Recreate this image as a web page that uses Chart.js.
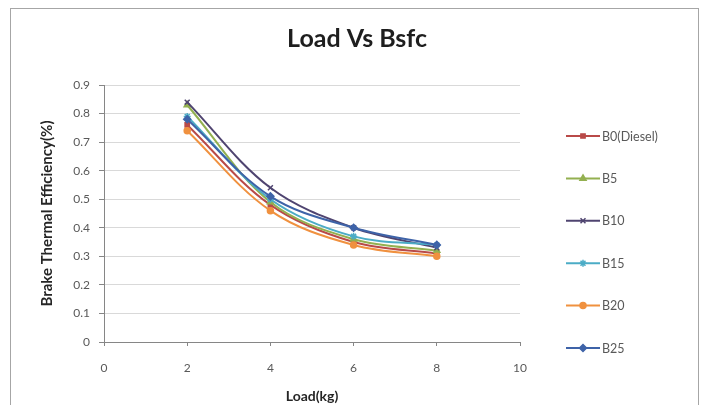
<!DOCTYPE html>
<html><head><meta charset="utf-8">
<script src="https://cdn.jsdelivr.net/npm/chart.js@4/dist/chart.umd.min.js"></script>
<style>html,body{margin:0;padding:0;background:#fff}#wrap{width:702px;height:405px;position:relative}</style>
</head><body><div id="wrap"><canvas id="c" width="702" height="405"></canvas></div>
<script>
const chartTitle = 'Load Vs Bsfc';
const xTitle = 'Load(kg)';
const yTitle = 'Brake Thermal Efficiency(%)';
const loads = [2, 4, 6, 8];
const seriesNames = ['B0(Diesel)', 'B5', 'B10', 'B15', 'B20', 'B25'];
const b0  = [0.76, 0.48, 0.35, 0.31];
const b5  = [0.83, 0.49, 0.36, 0.32];
const b10 = [0.84, 0.54, 0.40, 0.33];
const b15 = [0.79, 0.50, 0.37, 0.34];
const b20 = [0.74, 0.46, 0.34, 0.30];
const b25 = [0.78, 0.51, 0.40, 0.34];
const xTicks = [0, 2, 4, 6, 8, 10];
const yTicks = [0, 0.1, 0.2, 0.3, 0.4, 0.5, 0.6, 0.7, 0.8, 0.9];

const seriesValues = [b0, b5, b10, b15, b20, b25];
const colors = ['#B94A48', '#93B050', '#4F4470', '#4BACC6', '#F0913F', '#3E63A8'];
const markers = ['rect', 'triangle', 'crossRot', 'star', 'circle', 'rectRot'];
const radii = [3, 3.5, 3.5, 3.5, 3, 3.5];

const datasets = seriesNames.map((name, i) => ({
  label: name,
  data: loads.map((x, j) => ({ x: x, y: seriesValues[i][j] })),
  borderColor: colors[i],
  backgroundColor: colors[i],
  pointBackgroundColor: colors[i],
  pointBorderColor: colors[i],
  pointStyle: markers[i],
  pointRadius: radii[i],
  pointBorderWidth: 1.5,
  borderWidth: 2,
  tension: 0.35,
  fill: false,
  order: -i
}));

const decor = {
  id: 'decor',
  beforeDraw(chart) {
    const ctx = chart.ctx;
    ctx.save();
    ctx.fillStyle = '#ffffff';
    ctx.fillRect(0, 0, chart.width, chart.height);
    ctx.strokeStyle = '#a6a6a6';
    ctx.lineWidth = 1;
    ctx.strokeRect(10.5, 8.5, 688, 460);
    ctx.restore();
  },
  afterDraw(chart) {
    const ctx = chart.ctx;
    ctx.save();
    ctx.fillStyle = '#1e1e1e';
    ctx.font = 'bold 25px Lato, "Open Sans", sans-serif';
    ctx.textAlign = 'center';
    ctx.textBaseline = 'middle';
    ctx.fillText(chartTitle, 357, 39);
    seriesNames.forEach((name, i) => {
      const y = 136 + i * 42.4;
      ctx.strokeStyle = colors[i];
      ctx.fillStyle = colors[i];
      ctx.lineWidth = 2;
      ctx.beginPath();
      ctx.moveTo(566, y);
      ctx.lineTo(600, y);
      ctx.stroke();
      ctx.lineWidth = 1.5;
      Chart.helpers.drawPoint(ctx, { pointStyle: markers[i], radius: radii[i], rotation: 0, borderWidth: 1.5 }, 583, y);
      ctx.fillStyle = '#595959';
      ctx.font = '12.5px Lato, "Open Sans", sans-serif';
      ctx.textAlign = 'left';
      ctx.textBaseline = 'middle';
      ctx.fillText(name, 602, y + 0.5);
    });
    ctx.restore();
  }
};

new Chart(document.getElementById('c'), {
  type: 'line',
  data: { datasets: datasets },
  plugins: [decor],
  options: {
    responsive: false,
    animation: false,
    devicePixelRatio: 1,
    layout: { padding: { left: 14, right: 182, top: 85, bottom: 0 } },
    plugins: { legend: { display: false }, title: { display: false }, tooltip: { enabled: false } },
    scales: {
      x: {
        type: 'linear', min: 0, max: 10,
        afterFit: s => { s.height = 63; },
        afterBuildTicks: s => { s.ticks = xTicks.map(v => ({ value: v })); },
        ticks: { color: '#595959', font: { family: 'Lato', size: 12 }, padding: 15, maxRotation: 0 },
        grid: { drawOnChartArea: false, tickLength: 4, tickColor: '#868686', color: '#868686' },
        border: { color: '#868686', width: 1 },
        title: { display: true, text: xTitle, color: '#262626', font: { family: 'Lato', size: 14, weight: 'bold' }, padding: { top: 0, bottom: 0 } }
      },
      y: {
        type: 'linear', min: 0, max: 0.9,
        afterFit: s => { s.width = 90; },
        afterBuildTicks: s => { s.ticks = yTicks.map(v => ({ value: v })); },
        ticks: { color: '#595959', font: { family: 'Lato', size: 12 }, padding: 9, callback: v => String(Math.round(v * 10) / 10) },
        grid: { color: '#d9d9d9', lineWidth: 1, tickLength: 5, tickColor: '#868686' },
        border: { color: '#868686', width: 1 },
        title: { display: true, text: yTitle, color: '#262626', font: { family: 'Lato', size: 15, weight: 'bold' }, padding: { top: 24, bottom: 0 } }
      }
    }
  }
});
</script></body></html>
